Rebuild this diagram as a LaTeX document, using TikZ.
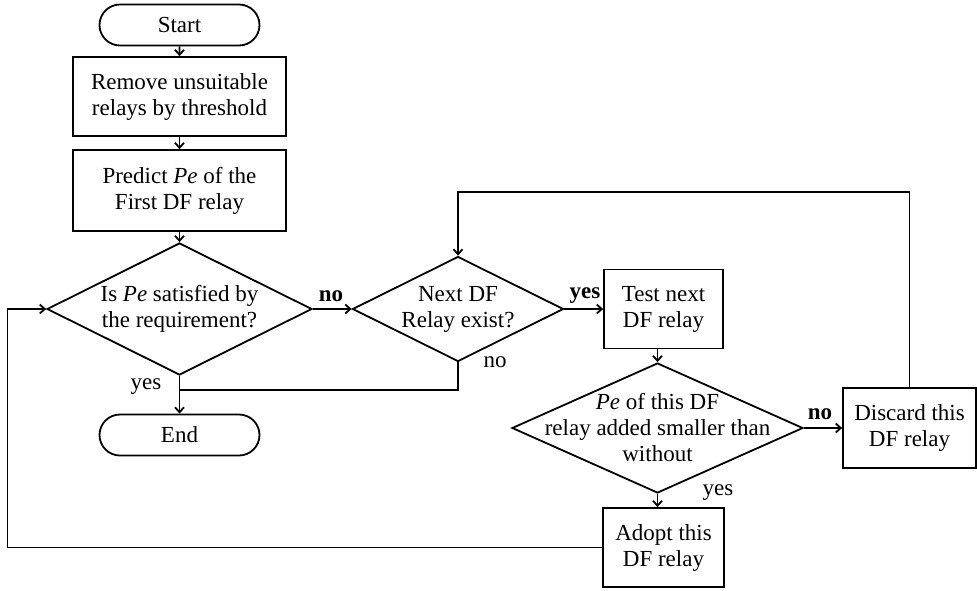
\documentclass[tikz,border=0pt]{standalone}
\usepackage{fontspec}
\setmainfont{Liberation Serif}
\usetikzlibrary{shapes.geometric,shapes.misc,arrows.meta}
\begin{document}
\begin{tikzpicture}[x=1pt,y=-1pt,
  every node/.style={font=\fontsize{23}{26}\selectfont},
  box/.style={draw,line width=1.8pt,rectangle,align=center,inner sep=0pt},
  term/.style={draw,line width=1.8pt,rounded rectangle,minimum width=160pt,minimum height=41pt,inner sep=0pt},
  dia/.style={draw,line width=1.8pt,diamond,inner sep=0pt},
  txt/.style={align=center,inner sep=0pt},
  lbl/.style={inner sep=0pt},
  arr/.style={line width=1.8pt,-{Straight Barb[length=5pt,width=9pt]}},
  ln/.style={line width=1.8pt}]
\useasboundingbox (0,0) rectangle (977,590);
% nodes
\node[term] (start) at (179.5,25) {Start};
\node[box,minimum width=213pt,minimum height=79pt] (remove) at (179.5,96.5) {Remove unsuitable\\relays by threshold};
\node[box,minimum width=213pt,minimum height=81pt] (predict) at (179.5,190.5) {Predict \textit{Pe} of the\\First DF relay};
\node[dia,minimum width=265pt,minimum height=132pt] (d1) at (179.5,309) {};
\node[txt] (t1) at (d1) {Is \textit{Pe} satisfied by\\the requirement?};
\node[dia,minimum width=211pt,minimum height=105pt] (d2) at (458,309) {};
\node[txt] (t2) at (d2) {Next DF\\Relay exist?};
\node[box,minimum width=119pt,minimum height=79pt] (test) at (663.5,309) {Test next\\DF relay};
\node[dia,minimum width=291pt,minimum height=130pt] (d3) at (657.5,428) {};
\node[txt] (t3) at (d3) {\textit{Pe} of this DF\\relay added smaller than\\without};
\node[box,minimum width=133pt,minimum height=80pt] (discard) at (909.5,428) {Discard this\\DF relay};
\node[box,minimum width=121pt,minimum height=79pt] (adopt) at (663.5,547.5) {Adopt this\\DF relay};
\node[term] (end) at (179.5,435) {End};
% labels
\node[lbl] (n1) at (331,296) {\textbf{no}};
\node[lbl] (y1) at (585,296) {\textbf{yes}};
\node[lbl] (n2) at (495,362) {no};
\node[lbl] (y2) at (146,387) {yes};
\node[lbl] (n3) at (820,414) {\textbf{no}};
\node[lbl] (y3) at (718,493) {yes};
% helper coordinates
\coordinate (j) at (179.5,390);
\coordinate (fb) at (458,192);
\coordinate (lp) at (7.5,309);
% connectors
\draw[arr] (start) -- (remove);
\draw[arr] (remove) -- (predict);
\draw[arr] (predict) -- (d1);
\draw[arr] (d1.east) -- (d2.west);
\draw[arr] (d2.east) -- (test.west);
\draw[arr] (d1.south) -- (end.north);
\draw[ln] (d2.south) |- (j);
\draw[arr] (test.south -| d3.north) -- (d3.north);
\draw[arr] (d3.east) -- (discard.west);
\draw[arr] (d3.south) -- (d3.south |- adopt.north);
\draw[arr] (discard.north) -- (discard.north |- fb) -- (fb) -- (d2.north);
\draw[arr] (adopt.west) -| (lp) -- (d1.west);
\end{tikzpicture}
\end{document}
